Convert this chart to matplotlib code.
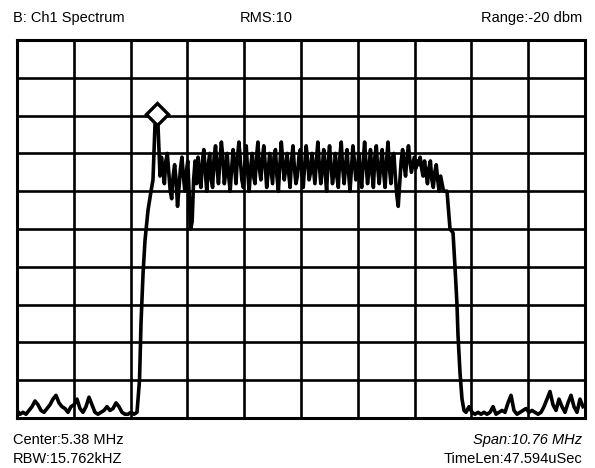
import numpy as np
import matplotlib
matplotlib.use("Agg")
import matplotlib.pyplot as plt

# ---- data (frequency in MHz, level in screen divisions: 0 = bottom, 10 = top) ----
span_mhz = 10.76
n_div = 10

# left noise floor, evenly spaced bins
left_floor_start, left_floor_stop = 0.0, 2.273
left_floor_level = [0.2, 0.1, 0.15, 0.1, 0.2, 0.3, 0.45, 0.35, 0.2, 0.15,
                    0.25, 0.35, 0.5, 0.6, 0.4, 0.3, 0.25, 0.15, 0.3, 0.35,
                    0.5, 0.25, 0.15, 0.3, 0.55, 0.35, 0.15, 0.1, 0.15, 0.2,
                    0.3, 0.2, 0.25, 0.4, 0.3, 0.15, 0.1, 0.1, 0.15, 0.1, 0.15]

# rising skirt + carrier
left_edge_freq = [2.321, 2.349, 2.387, 2.425, 2.482, 2.539, 2.576, 2.614, 2.671]
left_edge_level = [1.0, 2.5, 3.8, 4.7, 5.5, 6.0, 6.3, 7.75, 7.75]

carrier_freq = 2.652
carrier_level = 8.05

# occupied band, evenly spaced bins
band_start, band_stop = 2.709, 8.108
band_level = [
    # 2.7 - 3.5 MHz
    6.4, 6.9, 6.6, 6.2, 6.8, 7.0, 6.5, 6.0, 5.8, 6.4, 6.7, 6.3, 5.6, 6.1,
    6.6, 6.9, 6.4, 6.0, 6.5, 6.8, 5.9, 5.0, 5.2, 6.3, 6.8, 6.2, 6.9, 6.4,
    # 3.5 - 4.6 MHz
    6.1, 6.8, 7.1, 6.5, 6.0, 6.7, 7.0, 6.3, 6.1, 6.9, 7.2, 6.6, 6.2, 6.8,
    7.3, 6.9, 6.2, 6.5, 7.0, 6.4, 6.0, 6.6, 7.1, 6.7, 6.2, 6.9, 7.3, 6.8,
    6.3, 6.1, 6.7, 7.2, 6.5, 6.0, 6.6, 7.0, 6.4, 6.2, 6.9, 7.3, 6.6,
    # 4.6 - 5.7 MHz
    6.3, 6.8, 7.2, 6.7, 6.1, 6.5, 7.0, 6.6, 6.2, 6.9, 7.1, 6.4, 6.0, 6.7,
    7.3, 6.8, 6.3, 6.6, 7.0, 6.5, 6.1, 6.8, 7.2, 6.6, 6.2, 6.4, 6.9, 7.1,
    6.5, 6.1, 6.7, 7.2, 6.8, 6.3, 6.5, 7.0, 6.6, 6.2, 6.8, 7.3, 6.7,
    # 5.7 - 6.9 MHz
    6.2, 6.6, 7.1, 6.5, 6.0, 6.8, 7.2, 6.7, 6.2, 6.5, 7.0, 6.4, 6.1, 6.9,
    7.3, 6.6, 6.2, 6.7, 7.1, 6.5, 6.0, 6.6, 7.2, 6.8, 6.3, 6.5, 7.0, 6.4,
    6.1, 6.8, 7.3, 6.7, 6.2, 6.6, 7.1, 6.5, 6.1, 6.9, 7.2, 6.6, 6.2,
    # 6.9 - 8.1 MHz
    6.7, 7.1, 6.5, 6.1, 6.8, 7.3, 6.6, 6.2, 6.9, 7.0, 6.4, 5.9, 5.6, 6.2,
    6.8, 7.1, 6.7, 6.4, 6.9, 7.2, 6.8, 6.5, 6.7, 6.9, 6.6, 6.8, 6.7, 6.9,
    6.6, 6.4, 6.8, 6.5, 6.2, 6.6, 6.8, 6.3, 6.1, 6.5, 6.7, 6.3, 6.0, 6.4,
    6.2, 6.0, 6.0,
]

# falling skirt
right_edge_freq = [8.146, 8.203, 8.260, 8.297, 8.335, 8.354, 8.392, 8.430, 8.468]
right_edge_level = [6.0, 5.0, 4.9, 4.0, 3.0, 2.2, 1.2, 0.5, 0.2]

# right noise floor, evenly spaced bins
right_floor_start, right_floor_stop = 8.506, 10.722
right_floor_level = [0.15, 0.3, 0.15, 0.1, 0.15, 0.1, 0.15, 0.1, 0.15, 0.3,
                     0.1, 0.15, 0.2, 0.15, 0.4, 0.6, 0.2, 0.1, 0.15, 0.2,
                     0.25, 0.15, 0.2, 0.15, 0.1, 0.15, 0.3, 0.5, 0.7, 0.35,
                     0.2, 0.5, 0.3, 0.15, 0.4, 0.6, 0.3, 0.15, 0.5, 0.3]

header_left = "B: Ch1 Spectrum"
header_mid = "RMS:10"
header_right = "Range:-20 dbm"
footer_l1 = "Center:5.38 MHz"
footer_l2 = "RBW:15.762kHZ"
footer_r1 = "Span:10.76 MHz"
footer_r2 = "TimeLen:47.594uSec"

# ---- build trace ----
freq = np.concatenate([
    np.linspace(left_floor_start, left_floor_stop, len(left_floor_level)),
    left_edge_freq,
    np.linspace(band_start, band_stop, len(band_level)),
    right_edge_freq,
    np.linspace(right_floor_start, right_floor_stop, len(right_floor_level)),
])
level = np.concatenate([left_floor_level, left_edge_level, band_level,
                        right_edge_level, right_floor_level])

fig = plt.figure(figsize=(5.95, 4.68), dpi=100)
ax = fig.add_axes([17 / 595, 50 / 468, 568 / 595, 378 / 468])
ax.set_xlim(0, span_mhz)
ax.set_ylim(0, n_div)

for i in range(n_div + 1):
    ax.axvline(span_mhz * i / n_div, color="black", lw=1.9, zorder=1)
    ax.axhline(i, color="black", lw=1.9, zorder=1)

ax.plot(freq, level, color="black", lw=2.6, zorder=3, solid_joinstyle="round")
ax.plot([carrier_freq], [carrier_level], marker="D", markersize=11,
        markerfacecolor="white", markeredgecolor="black", markeredgewidth=2.4, zorder=4)

for s in ax.spines.values():
    s.set_linewidth(2.2)
ax.set_xticks([])
ax.set_yticks([])

font = dict(family="Liberation Sans", fontsize=10.5, color="black")
fig.text(13 / 595, 1 - 18 / 468, header_left, ha="left", va="center", **font)
fig.text(266 / 595, 1 - 18 / 468, header_mid, ha="center", va="center", **font)
fig.text(582 / 595, 1 - 18 / 468, header_right, ha="right", va="center", **font)
fig.text(13 / 595, 1 - 440 / 468, footer_l1, ha="left", va="center", **font)
fig.text(13 / 595, 1 - 459 / 468, footer_l2, ha="left", va="center", **font)
fig.text(582 / 595, 1 - 440 / 468, footer_r1, ha="right", va="center", style="italic", **font)
fig.text(582 / 595, 1 - 459 / 468, footer_r2, ha="right", va="center", **font)

fig.savefig("out.png", dpi=100, facecolor="white")
